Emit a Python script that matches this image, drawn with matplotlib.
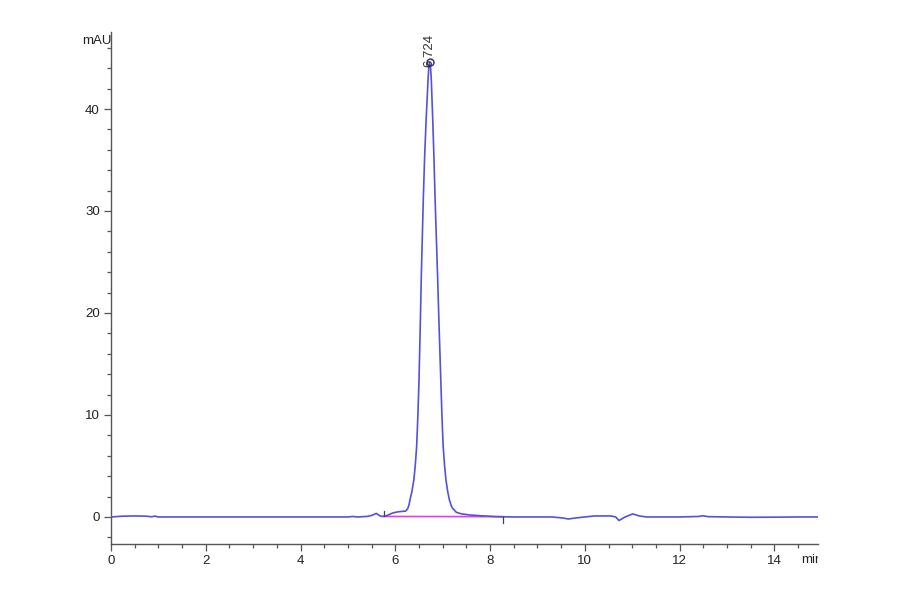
import matplotlib
matplotlib.use("Agg")
import matplotlib.pyplot as plt
from matplotlib.ticker import MultipleLocator
from matplotlib.transforms import Bbox

plt.rcParams['font.family'] = ['Liberation Sans', 'DejaVu Sans']

# Chromatogram trace (time in min, absorbance in mAU)
time_min = [0.00, 0.25, 0.50, 0.75, 0.85, 0.93, 1.00, 2.0, 3.0, 4.0, 5.0, 5.1, 5.2,
            5.4, 5.5, 5.60, 5.66, 5.71, 5.80, 5.95, 6.05, 6.15, 6.22, 6.26, 6.29,
            6.31, 6.35, 6.39, 6.42, 6.45, 6.475, 6.50, 6.525, 6.55, 6.57, 6.59,
            6.62, 6.65, 6.69, 6.705, 6.724, 6.745, 6.76, 6.79, 6.815, 6.84, 6.865,
            6.89, 6.925, 6.96, 6.985, 7.01, 7.04, 7.07, 7.105, 7.14, 7.17, 7.20,
            7.29, 7.40, 7.57, 7.80, 8.14, 8.5, 9.0, 9.3, 9.54, 9.65, 9.80, 10.0,
            10.2, 10.55, 10.65, 10.72, 10.85, 11.01, 11.15, 11.3, 12.0, 12.4,
            12.49, 12.6, 13.0, 13.5, 14.0, 14.5, 14.92]
signal_mau = [0.0, 0.08, 0.10, 0.08, 0.02, 0.08, 0.0, 0.0, 0.0, 0.0, 0.0, 0.05, 0.0,
              0.05, 0.15, 0.35, 0.15, 0.05, 0.1, 0.4, 0.5, 0.55, 0.58, 0.8, 1.2,
              1.7, 2.5, 3.6, 5.0, 6.9, 9.8, 13.4, 18.5, 23.9, 27.5, 31.1,
              35.5, 38.9, 42.8, 44.0, 44.6, 44.0, 42.8, 38.9, 35.3, 31.1, 27.5,
              23.9, 18.5, 13.4, 9.8, 6.9, 5.0, 3.6, 2.5, 1.7, 1.25, 0.9,
              0.45, 0.3, 0.2, 0.12, 0.03, 0.0, 0.0, 0.0, -0.1, -0.2, -0.1, 0.0,
              0.1, 0.1, 0.0, -0.35, 0.0, 0.3, 0.1, 0.0, 0.0, 0.05,
              0.12, 0.03, 0.0, -0.03, -0.02, 0.0, 0.0]

peak_time = 6.724
peak_height = 44.6
peak_label = "6.724"

baseline_start = 5.76
baseline_end = 8.28
baseline_levels = [0.05, 0.03]

x_ticks = [0, 2, 4, 6, 8, 10, 12, 14]
y_ticks = [0, 10, 20, 30, 40]

fig = plt.figure(figsize=(9, 5.94), dpi=100)
ax = fig.add_axes([111/900, 50/594, 707/900, 512/594])

line_color = '#5252dc'
ax.plot(time_min, signal_mau, color=line_color, lw=1.2, zorder=3,
        solid_joinstyle='round')
ax.plot([baseline_start, baseline_end], baseline_levels, color='#e23ee2', lw=1.2, zorder=2)

# integration event marks
ax.plot([baseline_start, baseline_start], [0.05, 0.6], color='#444444', lw=0.9, zorder=4)
ax.plot([baseline_end, baseline_end], [0.03, -0.55], color='#444444', lw=0.9, zorder=4)

# peak apex marker and label
ax.plot([peak_time], [peak_height], marker='o', ms=5, mfc='none', mec='#2a2a80', mew=1.0, zorder=5)
ax.text(peak_time, peak_height - 0.5, peak_label, rotation=90, ha='center', va='bottom',
        fontsize=9.5, color='#333333', zorder=6)

ax.set_xlim(0, 14.92)
ax.set_ylim(-2.65, 47.55)

for s in ['top', 'right']:
    ax.spines[s].set_visible(False)
for s in ['left', 'bottom']:
    ax.spines[s].set_color('#555555')
    ax.spines[s].set_linewidth(1.0)

ax.set_xticks(x_ticks)
ax.set_yticks(y_ticks)
ax.xaxis.set_minor_locator(MultipleLocator(0.5))
ax.yaxis.set_minor_locator(MultipleLocator(2))
ax.tick_params(axis='both', which='major', length=5, width=0.9, color='#555555',
               labelsize=9.5, labelcolor='#222222', direction='out', pad=3)
ax.tick_params(axis='both', which='minor', length=3, width=0.9, color='#555555',
               direction='out')

fig.text(97/900, 1 - 41/594, "mAU", ha='center', va='center', fontsize=9.5, color='#222222')
t = fig.text(812/900, 1 - 560/594, "min", ha='center', va='center', fontsize=9.5, color='#222222')
t.set_clip_box(Bbox.from_extents(0, 0, 818, 594))
t.set_clip_on(True)

fig.savefig("out.png", dpi=100)
